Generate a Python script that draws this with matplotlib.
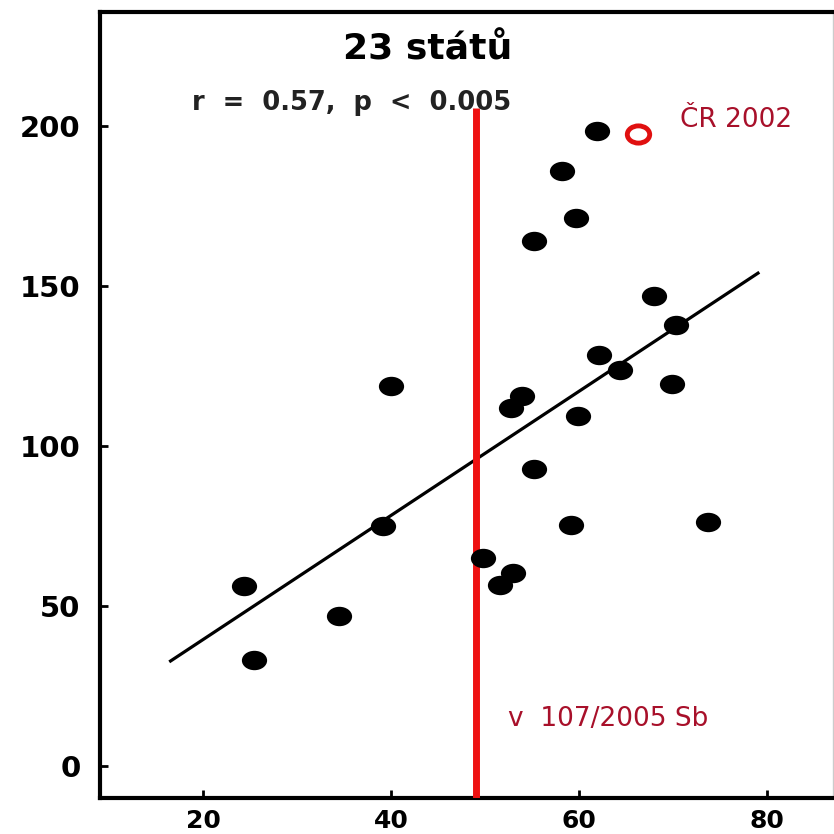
import matplotlib
matplotlib.use("Agg")
import matplotlib.pyplot as plt
import numpy as np
from matplotlib.path import Path
from matplotlib.transforms import Affine2D

# data
x_vals = [24.3, 25.4, 34.4, 39.1, 40.0, 49.7, 51.5, 52.9, 52.7, 53.9, 55.2, 55.2,
          58.2, 59.6, 59.1, 59.9, 61.9, 62.1, 64.3, 67.9, 69.9, 70.3, 73.7]
y_vals = [56.3, 33.1, 46.9, 75.0, 118.8, 65.0, 56.6, 60.3, 111.9, 115.6, 92.8, 164.0,
          186.0, 171.3, 75.3, 109.4, 198.4, 128.4, 123.8, 146.9, 119.4, 137.8, 76.3]
cr_point = (66.2, 197.5)
fit_x = [16.5, 79.0]
fit_y = [32.8, 154.0]
vline_x = 49.0
vline_top = 205.6
x_ticks = [20, 40, 60, 80]
y_ticks = [0, 50, 100, 150, 200]

fig = plt.figure(figsize=(8.34, 8.34), dpi=100)
ax = fig.add_axes([0.12, 0.0432, 0.879, 0.9424])
ax.set_xlim(9.0, 87.0)
ax.set_ylim(-10, 235.6)

ell = Path.unit_circle().transformed(Affine2D().scale(1.3, 1.0))

ax.plot(fit_x, fit_y, color='black', lw=2.3, zorder=2)
ax.plot([vline_x, vline_x], [-10, vline_top], color='#ee1111', lw=5, zorder=3, solid_capstyle='butt')
ax.scatter(x_vals, y_vals, marker=ell, s=330, color='black', zorder=4, linewidths=0)
ax.scatter([cr_point[0]], [cr_point[1]], marker=ell, s=260, facecolors='white',
           edgecolors='#e01010', linewidths=3.5, zorder=4)

ax.text(43.9, 223.8, "23 států", fontsize=26, fontweight='bold', ha='center', va='center')
ax.text(35.8, 207.2, "r  =  0.57,  p  <  0.005", fontsize=18.5, fontweight='bold', ha='center', va='center',
        color='#222222')
ax.text(70.7, 201.8, "ČR 2002", fontsize=19, color='#a8102a', ha='left', va='center')
ax.text(52.4, 14.7, "v  107/2005 Sb", fontsize=19, color='#a8102a', ha='left', va='center')

ax.set_xticks(x_ticks)
ax.set_yticks(y_ticks)
ax.tick_params(direction='in', length=6, width=2)
ax.tick_params(axis='x', labelsize=18, pad=8)
ax.tick_params(axis='y', labelsize=21, pad=14)
for lab in ax.get_xticklabels() + ax.get_yticklabels():
    lab.set_fontweight('bold')
for s in ['left', 'bottom', 'top']:
    ax.spines[s].set_linewidth(3)
ax.spines['right'].set_linewidth(1)
ax.spines['right'].set_color('#cccccc')

fig.savefig("out.png", dpi=100)
